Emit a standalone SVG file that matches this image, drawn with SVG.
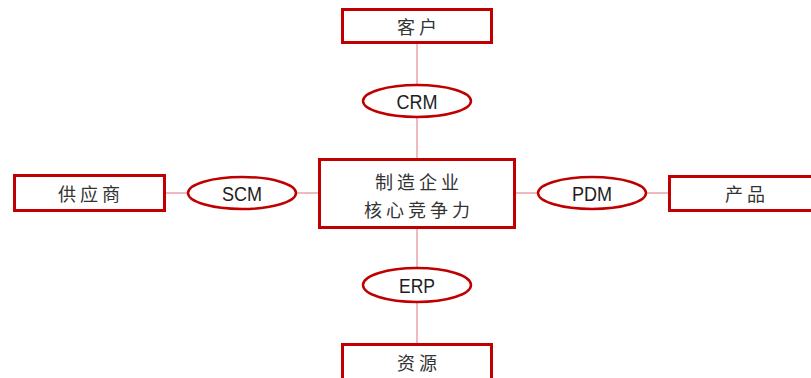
<svg xmlns="http://www.w3.org/2000/svg" width="811" height="378" viewBox="0 0 811 378">
  <style>
    .box { fill: #ffffff; stroke: #C00000; stroke-width: 3; }
    .oval { fill: #ffffff; stroke: #C00000; stroke-width: 2.5; }
    .link { stroke: #E8A3AA; stroke-width: 1.5; fill: none; }
    .cn { font-family: "Noto Sans CJK SC", sans-serif; font-size: 18px; fill: #333333; text-anchor: middle; dominant-baseline: central; letter-spacing: 4px; }
    .en { font-family: "Liberation Sans", Arial, sans-serif; font-size: 21px; fill: #1e1e1e; text-anchor: middle; dominant-baseline: central; }
  </style>
  <rect width="811" height="378" fill="#ffffff"/>

  <!-- connectors -->
  <g id="connectors">
    <line class="link" x1="417" y1="44" x2="417" y2="158"/>
    <line class="link" x1="417" y1="229" x2="417" y2="343"/>
    <line class="link" x1="166" y1="193" x2="318" y2="193"/>
    <line class="link" x1="516" y1="193" x2="668" y2="193"/>
  </g>

  <g id="customer">
    <rect class="box" x="342.5" y="9.5" width="149" height="33"/>
    <text class="cn" x="419" y="26">客户</text>
  </g>
  <g id="crm">
    <ellipse class="oval" cx="417" cy="101" rx="54" ry="16"/>
    <text class="en" x="417" y="101" textLength="41" lengthAdjust="spacingAndGlyphs">CRM</text>
  </g>
  <g id="core">
    <rect class="box" x="319.5" y="159.5" width="195" height="68"/>
    <text class="cn" x="419" y="181">制造企业</text>
    <text class="cn" x="419" y="209">核心竞争力</text>
  </g>
  <g id="supplier">
    <rect class="box" x="14.5" y="175.5" width="150" height="35"/>
    <text class="cn" x="91" y="193">供应商</text>
  </g>
  <g id="scm">
    <ellipse class="oval" cx="242" cy="193" rx="54" ry="16"/>
    <text class="en" x="242" y="193" textLength="40" lengthAdjust="spacingAndGlyphs">SCM</text>
  </g>
  <g id="pdm">
    <ellipse class="oval" cx="592" cy="193" rx="54" ry="16"/>
    <text class="en" x="592" y="193" textLength="40" lengthAdjust="spacingAndGlyphs">PDM</text>
  </g>
  <g id="product">
    <rect class="box" x="669.5" y="176.5" width="152" height="34"/>
    <text class="cn" x="747" y="193">产品</text>
  </g>
  <g id="erp">
    <ellipse class="oval" cx="417" cy="285" rx="54" ry="17"/>
    <text class="en" x="417" y="285" textLength="36" lengthAdjust="spacingAndGlyphs">ERP</text>
  </g>
  <g id="resource">
    <rect class="box" x="342.5" y="344.5" width="149" height="45"/>
    <text class="cn" x="419" y="362">资源</text>
  </g>
</svg>
